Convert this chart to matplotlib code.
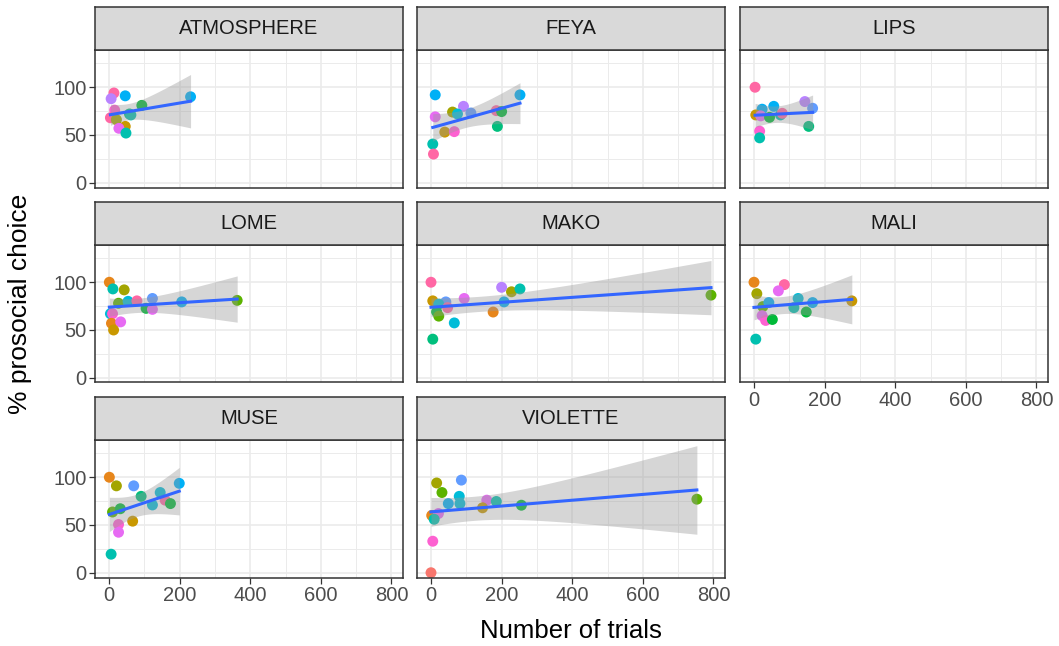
import numpy as np
import matplotlib
matplotlib.use("Agg")
import matplotlib.pyplot as plt

plt.rcParams['font.family'] = ['Liberation Sans', 'DejaVu Sans']

# ggplot-like hue colours
palette = {
    'salmon': '#F8766D', 'orange': '#E7861B', 'gold': '#C99800', 'olive': '#A3A500',
    'yellowgreen': '#5BB300', 'green': '#00BA38', 'emerald': '#00BF7D', 'teal': '#00C0AF',
    'cyan': '#00BCD8', 'blue': '#00B0F6', 'lightblue': '#619CFF', 'lavender': '#B983FF',
    'violet': '#E76BF3', 'pink': '#FD61D1', 'hotpink': '#FF67A4',
}

# data
atmosphere_x = [14, 6, 46, 16, 4, 21, 58, 62, 93, 46, 28, 48, 231]
atmosphere_y = [94, 88, 91, 76, 68, 66, 72, 71, 81, 59, 57, 52, 90]
atmosphere_c = ['hotpink', 'lavender', 'blue', 'pink', 'hotpink', 'olive', 'emerald', 'teal',
                'green', 'gold', 'violet', 'teal', 'blue']

feya_x = [12, 12, 61, 92, 75, 113, 39, 66, 185, 200, 188, 5, 7, 252]
feya_y = [92, 69, 74, 80, 72, 73, 53, 53.5, 75.5, 74.5, 59, 40.5, 30, 92]
feya_c = ['blue', 'violet', 'olive', 'lavender', 'cyan', 'lightblue', 'gold', 'pink', 'hotpink',
          'green', 'emerald', 'teal', 'hotpink', 'blue']

lips_x = [3, 144, 166, 56, 23, 5, 19, 44, 75, 80, 155, 16, 16]
lips_y = [100, 85, 78, 80, 77, 71, 70, 68.5, 71, 72.7, 59, 54, 47]
lips_c = ['hotpink', 'lavender', 'lightblue', 'blue', 'blue', 'gold', 'violet', 'green', 'teal',
          'hotpink', 'emerald', 'pink', 'teal']

lome_x = [1, 11, 43, 27, 54, 79, 123, 105, 123, 206, 363, 4, 10, 7, 33, 13]
lome_y = [100, 93, 92, 78, 80, 80.5, 83, 72.7, 71.6, 79.4, 81, 67, 67, 57, 58.5, 50]
lome_c = ['orange', 'teal', 'olive', 'yellowgreen', 'cyan', 'hotpink', 'lightblue', 'green',
          'violet', 'blue', 'yellowgreen', 'cyan', 'pink', 'orange', 'violet', 'gold']

mako_x = [0, 200, 228, 252, 5, 42, 22, 47, 94, 16, 22, 66, 176, 207, 793, 5]
mako_y = [100, 94.7, 90, 93, 80.5, 79.4, 77, 73.4, 83, 69, 64.5, 57.4, 68.8, 79.4, 86.5, 40.4]
mako_c = ['hotpink', 'lavender', 'olive', 'teal', 'gold', 'lightblue', 'cyan', 'hotpink', 'violet',
          'green', 'yellowgreen', 'cyan', 'orange', 'blue', 'yellowgreen', 'emerald']

mali_x = [0, 8, 86, 69, 25, 42, 125, 113, 166, 148, 277, 23, 33, 52, 5]
mali_y = [100, 88, 97.5, 91, 74.5, 78.7, 83, 73.4, 78.7, 68.8, 80.5, 65, 60, 61, 40.4]
mali_c = ['orange', 'olive', 'hotpink', 'violet', 'yellowgreen', 'blue', 'cyan', 'teal', 'blue',
          'green', 'gold', 'violet', 'pink', 'green', 'teal']

muse_x = [1, 21, 70, 91, 145, 123, 159, 174, 199, 10, 32, 67, 27, 27, 6]
muse_y = [100, 91, 91, 80, 84, 71, 76, 72.4, 93.6, 63.6, 67, 54, 50.5, 42.4, 19.4]
muse_c = ['orange', 'olive', 'lightblue', 'emerald', 'cyan', 'cyan', 'hotpink', 'green', 'blue',
          'yellowgreen', 'green', 'gold', 'pink', 'violet', 'teal']

violette_x = [16, 31, 86, 80, 82, 49, 158, 146, 185, 256, 753, 2, 21, 9, 5, 0]
violette_y = [94, 84, 97, 80, 72.4, 72.4, 76, 68, 74.6, 70.7, 77, 60, 62, 56, 33, 0]
violette_c = ['olive', 'yellowgreen', 'lightblue', 'cyan', 'cyan', 'blue', 'violet', 'gold', 'teal',
              'green', 'yellowgreen', 'orange', 'violet', 'teal', 'pink', 'salmon']

panels = [
    ('ATMOSPHERE', atmosphere_x, atmosphere_y, atmosphere_c),
    ('FEYA', feya_x, feya_y, feya_c),
    ('LIPS', lips_x, lips_y, lips_c),
    ('LOME', lome_x, lome_y, lome_c),
    ('MAKO', mako_x, mako_y, mako_c),
    ('MALI', mali_x, mali_y, mali_c),
    ('MUSE', muse_x, muse_y, muse_c),
    ('VIOLETTE', violette_x, violette_y, violette_c),
]


def t975(df):
    # Cornish-Fisher approximation of the 97.5% t quantile
    z = 1.959964
    return (z + (z**3 + z) / (4 * df) + (5 * z**5 + 16 * z**3 + 3 * z) / (96 * df**2)
            + (3 * z**7 + 19 * z**5 + 17 * z**3 - 15 * z) / (384 * df**3))


def lm_fit(x, y):
    x = np.asarray(x, float)
    y = np.asarray(y, float)
    n = len(x)
    b, a = np.polyfit(x, y, 1)
    res = y - (a + b * x)
    s2 = np.sum(res**2) / (n - 2)
    sxx = np.sum((x - x.mean())**2)
    xs = np.linspace(x.min(), x.max(), 80)
    fit = a + b * xs
    se = np.sqrt(s2 * (1 / n + (xs - x.mean())**2 / sxx))
    t = t975(n - 2)
    return xs, fit, fit - t * se, fit + t * se


all_x = np.concatenate([np.asarray(p[1], float) for p in panels])
xr = all_x.max() - all_x.min()
xlim = (all_x.min() - 0.05 * xr, all_x.max() + 0.05 * xr)
ylim = (-5, 139)

W, H = 1059, 646
col_left = [95, 417, 740]
panel_w = 308
row_top = [50, 245, 440]
panel_h = 137.5
strip_h = 43

fig = plt.figure(figsize=(W / 100, H / 100), dpi=100)
fig.patch.set_facecolor('white')

for k, (name, xs_, ys_, cs_) in enumerate(panels):
    r, c = divmod(k, 3)
    l = col_left[c]
    t = row_top[r]
    ax = fig.add_axes([l / W, 1 - (t + panel_h) / H, panel_w / W, panel_h / H])
    sax = fig.add_axes([l / W, 1 - t / H, panel_w / W, strip_h / H])

    ax.set_xlim(xlim)
    ax.set_ylim(ylim)
    ax.set_xticks([0, 200, 400, 600, 800])
    ax.set_xticks([100, 300, 500, 700], minor=True)
    ax.set_yticks([0, 50, 100])
    ax.set_yticks([25, 75, 125], minor=True)
    ax.grid(which='major', color='#EBEBEB', linewidth=1.2)
    ax.grid(which='minor', color='#EBEBEB', linewidth=0.7)
    ax.set_axisbelow(True)
    for sp in ax.spines.values():
        sp.set_color('#333333')
        sp.set_linewidth(1.1)
    ax.tick_params(which='minor', length=0)
    ax.tick_params(which='major', length=4, color='#333333', width=0.9,
                   labelsize=14.5, labelcolor='#4D4D4D', pad=2)

    show_x = (r == 2) or (r == 1 and c == 2)
    if not show_x:
        ax.tick_params(axis='x', which='major', length=0, labelbottom=False)
    if c != 0:
        ax.tick_params(axis='y', which='major', length=0, labelleft=False)

    ax.scatter(xs_, ys_, s=62, c=[palette[cc] for cc in cs_], linewidths=0, zorder=2)
    lx, ly, lo, hi = lm_fit(xs_, ys_)
    ax.fill_between(lx, lo, hi, color='#999999', alpha=0.4, linewidth=0, zorder=3)
    ax.plot(lx, ly, color='#3366FF', linewidth=2.2, zorder=4)

    sax.set_facecolor('#D9D9D9')
    sax.set_xticks([])
    sax.set_yticks([])
    for sp in sax.spines.values():
        sp.set_color('#333333')
        sp.set_linewidth(1.1)
    sax.text(0.5, 0.5, name, ha='center', va='center', fontsize=14.5, color='#1A1A1A',
             transform=sax.transAxes)

fig.text(571 / W, 1 - 631 / H, 'Number of trials', ha='center', va='center', fontsize=18.5)
fig.text(20 / W, 1 - 304 / H, '% prosocial choice', ha='center', va='center', fontsize=19,
         rotation=90)

plt.savefig('out.png', dpi=100)
